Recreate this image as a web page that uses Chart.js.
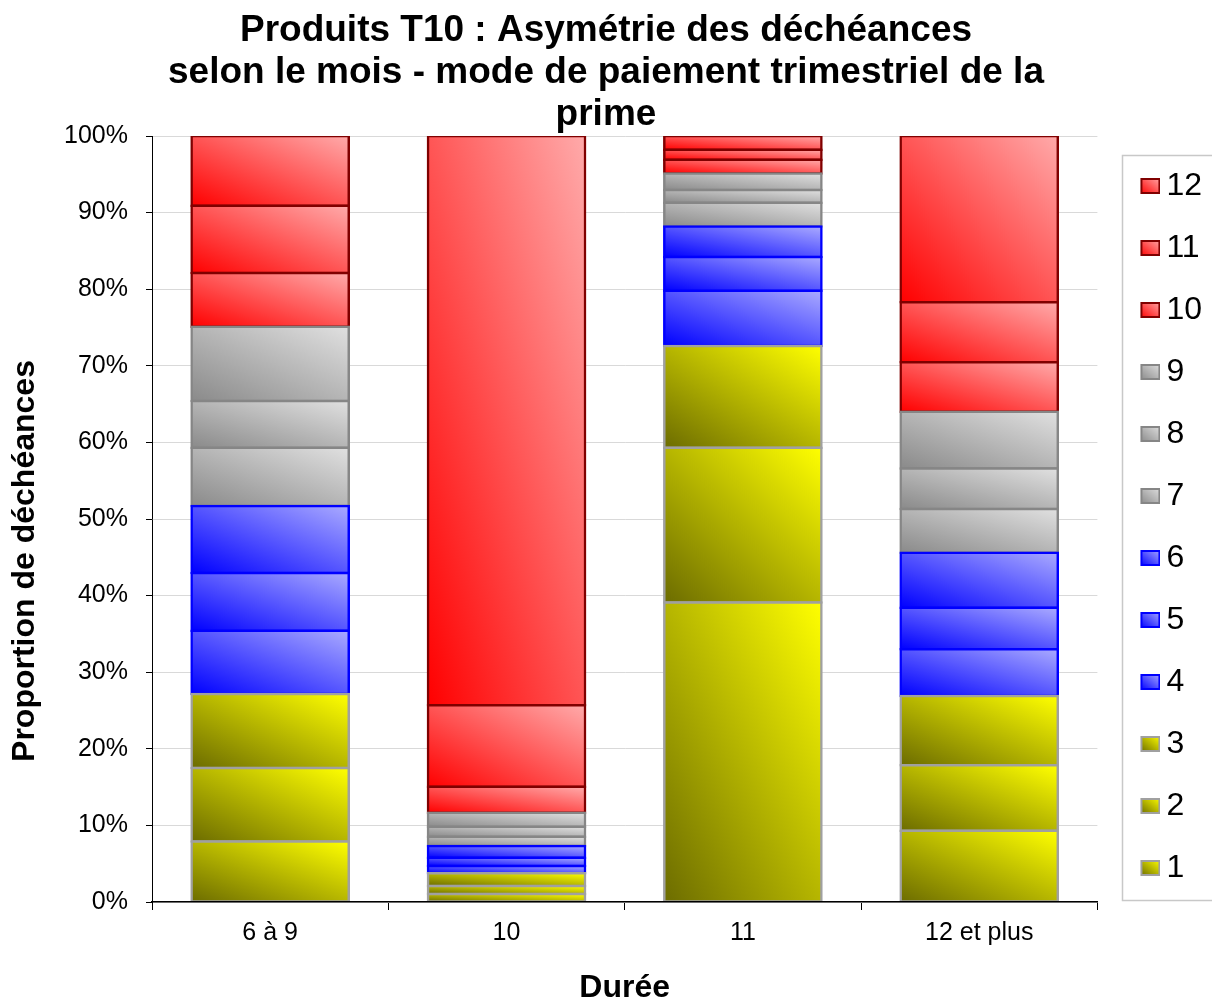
<!DOCTYPE html>
<html lang="fr">
<head>
<meta charset="utf-8">
<title>Produits T10 : Asymétrie des déchéances</title>
<script src="https://cdn.jsdelivr.net/npm/chart.js@4.4.1/dist/chart.umd.min.js"></script>
<style>
  html, body { margin: 0; padding: 0; background: #ffffff; }
  #wrap { width: 1212px; height: 1000px; }
</style>
</head>
<body>
<div id="wrap"><canvas id="c" width="1212" height="1000"></canvas></div>
<script>
// Durée classes (x axis)
const categories = ['6 à 9', '10', '11', '12 et plus'];
// Month of lapse (one stacked series per month)
const moisLabels = ['1', '2', '3', '4', '5', '6', '7', '8', '9', '10', '11', '12'];
// Share of lapses (%) per month, for each durée class
const mois1  = [7.9,  1.04, 39.1,  9.3];
const mois2  = [9.6,  1.05, 20.2,  8.55];
const mois3  = [9.65, 1.66, 13.3,  9.05];
const mois4  = [8.25, 0.95,  7.2,  6.1];
const mois5  = [7.55, 1.08,  4.4,  5.4];
const mois6  = [8.75, 1.53,  4.0,  7.2];
const mois7  = [7.6,  1.21,  3.1,  5.7];
const mois8  = [6.1,  1.31,  1.65, 5.3];
const mois9  = [9.7,  1.83,  2.15, 7.4];
const mois10 = [7.0,  3.39,  1.8,  6.45];
const mois11 = [8.8, 10.65,  1.3,  7.85];
const mois12 = [9.1, 74.3,   1.8, 21.7];
const seriesValues = [mois1, mois2, mois3, mois4, mois5, mois6, mois7, mois8, mois9, mois10, mois11, mois12];
// y axis graduations (%)
const yTicks = [0, 10, 20, 30, 40, 50, 60, 70, 80, 90, 100];

const FONT = "'Liberation Sans', Arial, Helvetica, sans-serif";
const BAR_FRACTION = 0.665;

// quarter groups: months 1-3 yellow, 4-6 blue, 7-9 grey, 10-12 red
const palette = [
  { dark: '#6c6c00', light: '#ffff00', border: '#a0a0a0' },
  { dark: '#0000ff', light: '#aaaaff', border: '#0000ff' },
  { dark: '#8a8a8a', light: '#e0e0e0', border: '#868686' },
  { dark: '#ff0000', light: '#ffaaaa', border: '#800000' }
];
const groupOf = i => Math.floor(i / 3);

// gradient running from the bottom-left corner (dark) to the top-right corner (light),
// with iso-lines parallel to the other diagonal of the rectangle
function cornerGradient(c, L, T, w, h, g) {
  const B = T + h;
  const k = (2 * w * h) / (w * w + h * h || 1);
  const grad = c.createLinearGradient(L, B, L + h * k, B - w * k);
  grad.addColorStop(0, g.dark);
  grad.addColorStop(1, g.light);
  return grad;
}

function segmentFill(ctx) {
  const g = palette[groupOf(ctx.datasetIndex)];
  const chart = ctx.chart;
  if (ctx.type !== 'data' || !chart.chartArea || !chart.scales.x || !chart.scales.y) return g.light;
  const xs = chart.scales.x, ys = chart.scales.y;
  const j = ctx.dataIndex;
  let base = 0;
  for (let k = 0; k < ctx.datasetIndex; k++) base += seriesValues[k][j];
  const top = base + seriesValues[ctx.datasetIndex][j];
  const w = xs.width / categories.length * BAR_FRACTION;
  const L = xs.getPixelForValue(j) - w / 2;
  const B = ys.getPixelForValue(base), T = ys.getPixelForValue(top);
  return cornerGradient(chart.ctx, L, T, w, B - T, g);
}

// small gradient swatches for the legend
function makeSwatch(g) {
  const cv = document.createElement('canvas');
  cv.width = 26; cv.height = 18;
  const c = cv.getContext('2d');
  const x = 6, y = 1, w = 20, h = 16;
  c.fillStyle = cornerGradient(c, x, y, w, h, g);
  c.fillRect(x, y, w, h);
  c.strokeStyle = g.border;
  c.lineWidth = 2;
  c.strokeRect(x + 1, y + 1, w - 2, h - 2);
  return cv;
}
const swatches = palette.map(makeSwatch);

const decor = {
  id: 'decor',
  afterLayout(chart) {
    const lg = chart.legend;
    if (lg) { lg.top += 27; lg.bottom += 27; }
  },
  afterDraw(chart) {
    const c = chart.ctx;
    const lg = chart.legend;
    const area = chart.chartArea;
    c.save();
    // frame around the legend
    if (lg) {
      c.strokeStyle = '#c8c8c8';
      c.lineWidth = 1.5;
      c.strokeRect(Math.round(lg.left + 8) + 0.5, Math.round(lg.top + 128) + 0.5, 200, 745);
    }
    // y axis title
    c.translate(25, area.bottom - 341);
    c.rotate(-Math.PI / 2);
    c.fillStyle = '#000';
    c.font = 'bold 32px ' + FONT;
    c.textAlign = 'center';
    c.textBaseline = 'middle';
    c.fillText('Proportion de déchéances', 0, 0);
    c.restore();
  }
};

new Chart(document.getElementById('c'), {
  type: 'bar',
  data: {
    labels: categories,
    datasets: moisLabels.map((m, i) => ({
      label: m,
      data: seriesValues[i],
      backgroundColor: segmentFill,
      borderColor: palette[groupOf(i)].border,
      borderWidth: 2.5,
      borderSkipped: false,
      inflateAmount: 1.25,
      barPercentage: BAR_FRACTION,
      categoryPercentage: 1
    }))
  },
  options: {
    responsive: false,
    animation: false,
    layout: { padding: 0 },
    plugins: {
      title: {
        display: true,
        text: ['Produits T10 : Asymétrie des déchéances',
               'selon le mois - mode de paiement trimestriel de la',
               'prime'],
        color: '#000',
        font: { family: FONT, size: 37, weight: 'bold', lineHeight: '42px' },
        padding: { top: 10, bottom: 0 }
      },
      legend: {
        position: 'right',
        align: 'center',
        fullSize: true,
        reverse: true,
        labels: {
          usePointStyle: true,
          boxWidth: 6,
          padding: 30,
          color: '#000',
          font: { family: FONT, size: 32 },
          generateLabels(chart) {
            return chart.data.datasets.map((ds, i) => ({
              text: ds.label,
              datasetIndex: i,
              pointStyle: swatches[groupOf(i)],
              fillStyle: 'rgba(0,0,0,0)',
              strokeStyle: 'rgba(0,0,0,0)',
              lineWidth: 0,
              hidden: false,
              fontColor: '#000'
            }));
          }
        }
      },
      tooltip: { enabled: false }
    },
    scales: {
      x: {
        stacked: true,
        offset: true,
        grid: { display: true, drawOnChartArea: false, offset: true, tickLength: 8, tickColor: '#000', tickWidth: 1 },
        border: { color: '#000', width: 1.5, z: 1 },
        ticks: { color: '#000', padding: 11, maxRotation: 0, font: { family: FONT, size: 25, lineHeight: 1 } },
        title: { display: true, text: 'Durée', color: '#000', padding: 0,
                 font: { family: FONT, size: 32, weight: 'bold', lineHeight: '24px' } },
        afterFit(s) { s.height = 98; }
      },
      y: {
        stacked: true,
        min: 0,
        max: 100,
        afterBuildTicks(s) { s.ticks = yTicks.map(v => ({ value: v })); },
        ticks: { color: '#000', padding: 18, callback: v => v + '%', font: { family: FONT, size: 25 } },
        grid: { color: '#d9d9d9', lineWidth: 1, tickColor: '#000', tickLength: 6 },
        border: { color: '#000', width: 1 },
        afterFit(s) { s.width = 152; }
      },
      espace: {
        type: 'linear',
        position: 'right',
        display: true,
        grid: { display: false },
        ticks: { display: false },
        border: { display: false },
        afterFit(s) { s.width = 17; }
      }
    }
  },
  plugins: [decor]
});
</script>
</body>
</html>
